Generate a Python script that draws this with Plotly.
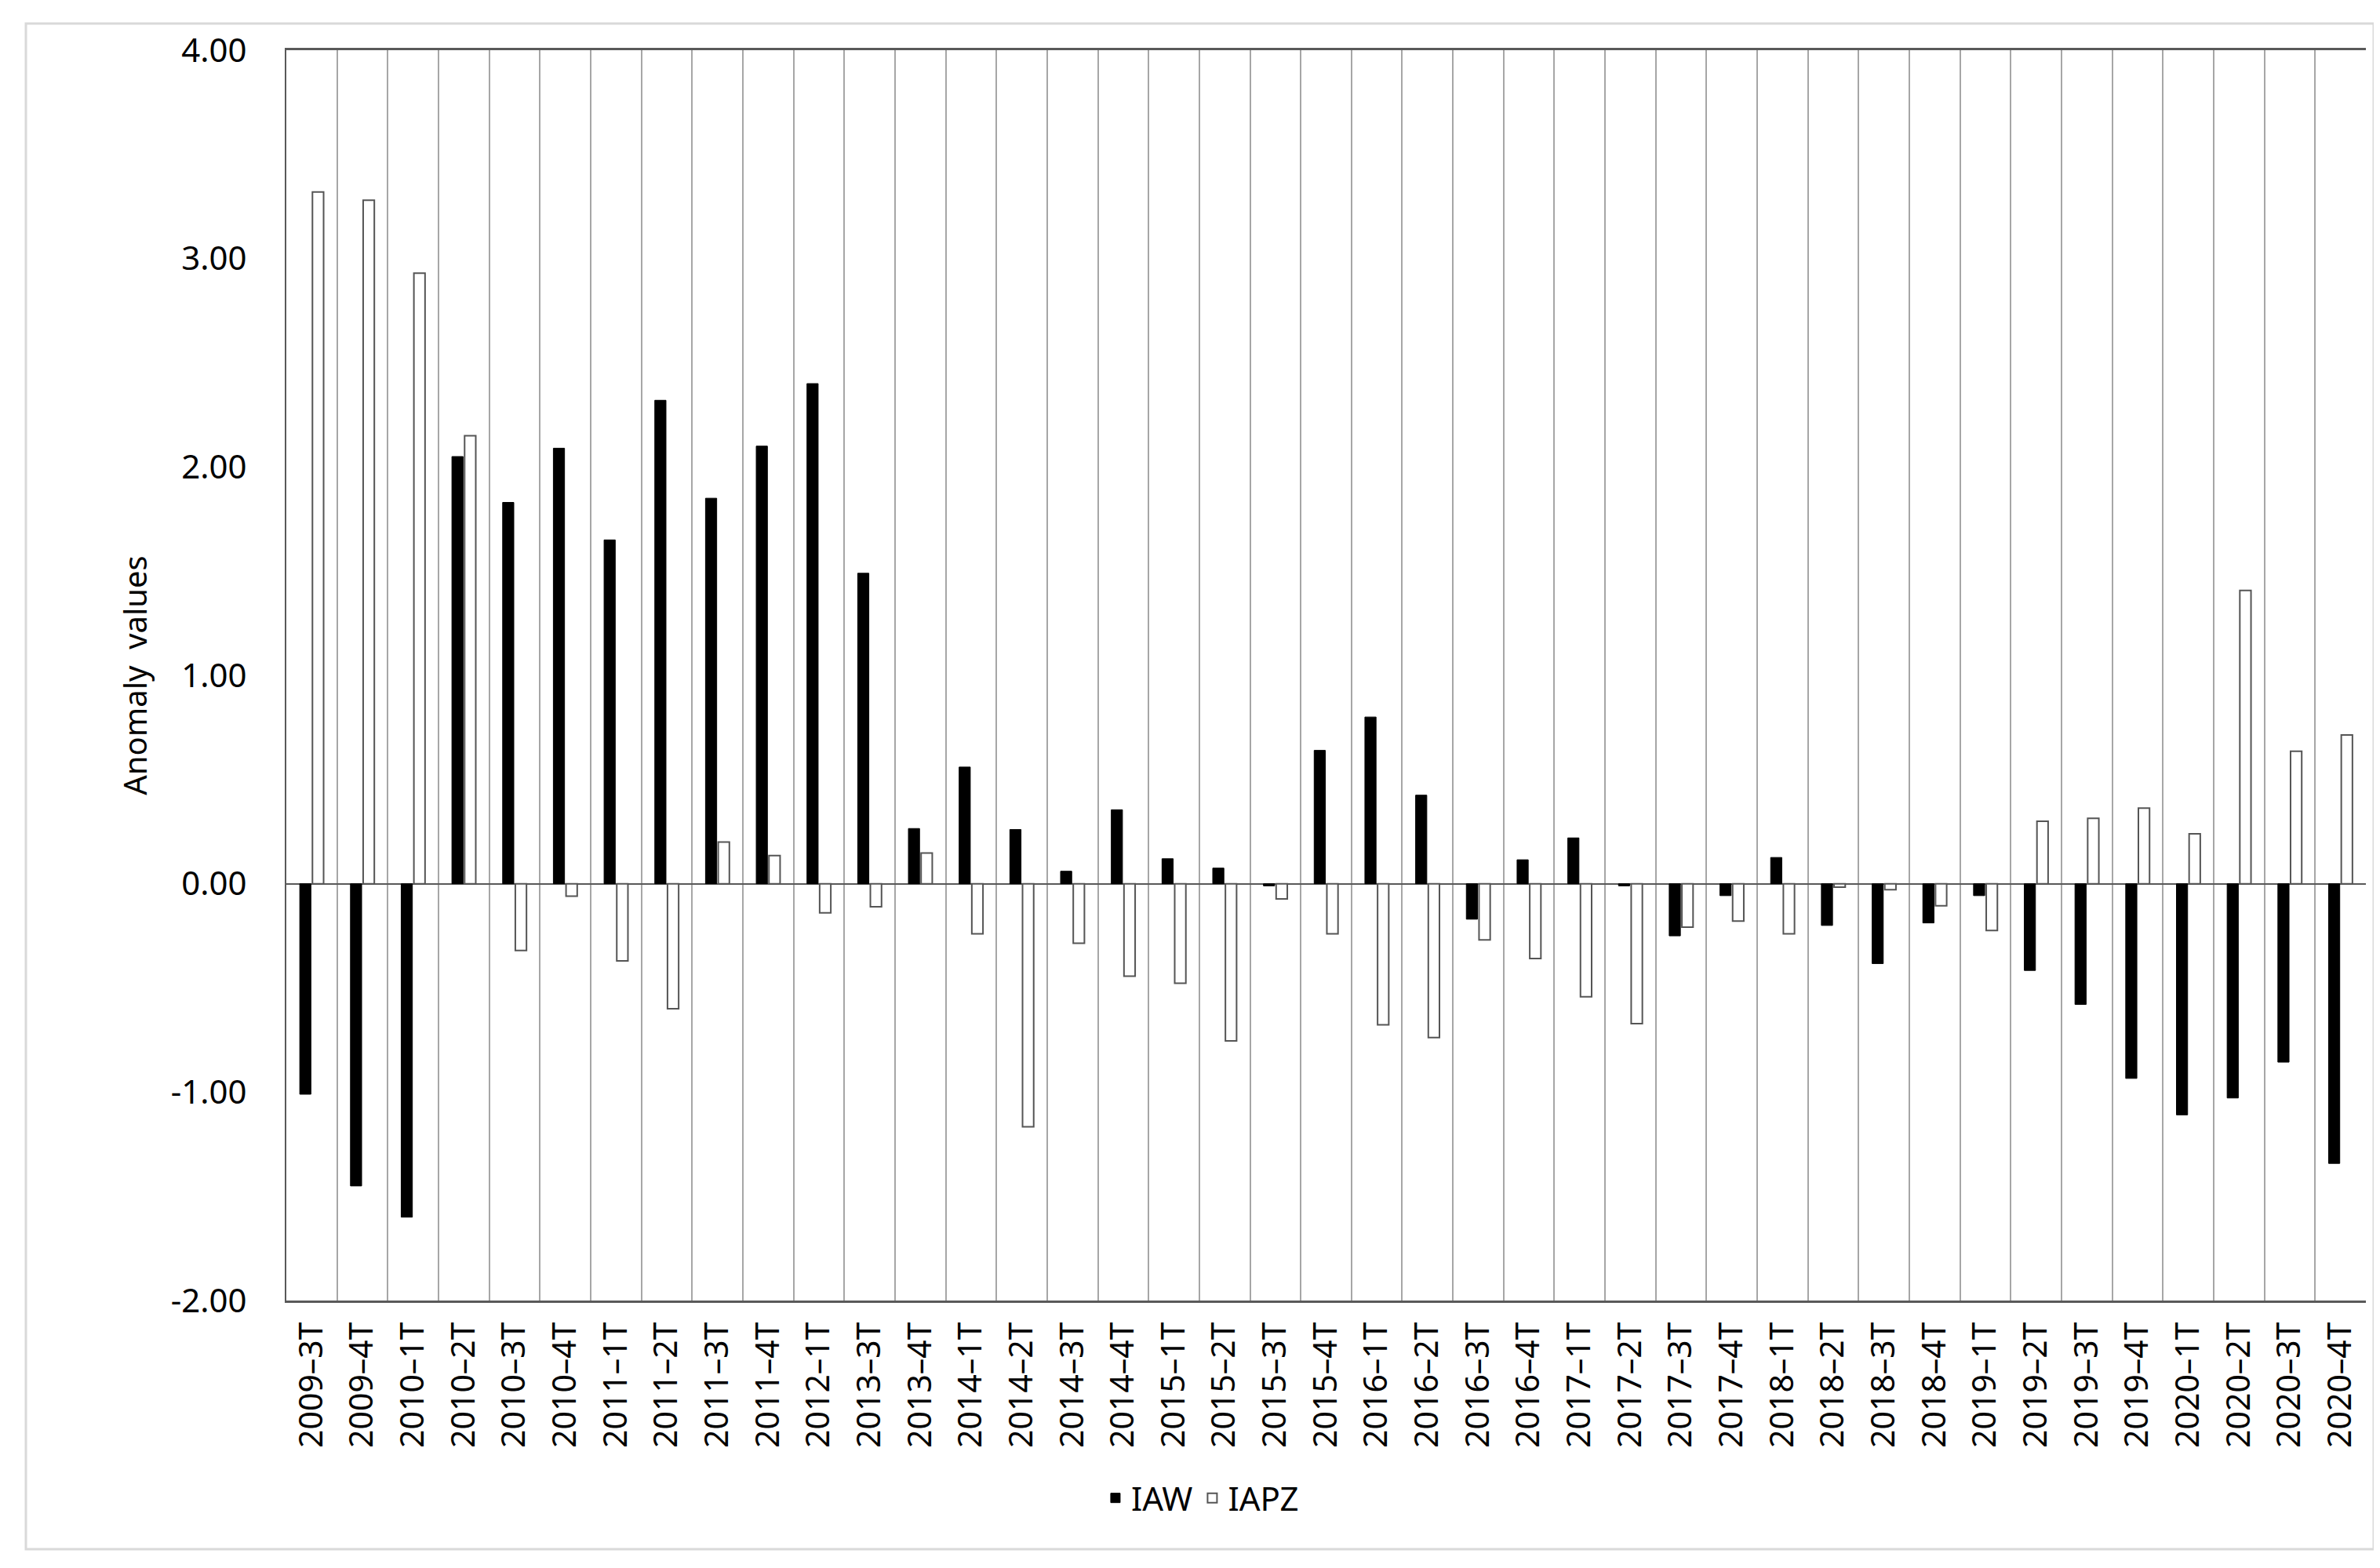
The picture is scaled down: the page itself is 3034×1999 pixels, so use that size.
import plotly.graph_objects as go

# quarters on the x axis
quarters = [
    "2009–3T", "2009–4T", "2010–1T", "2010–2T", "2010–3T", "2010–4T",
    "2011–1T", "2011–2T", "2011–3T", "2011–4T", "2012–1T", "2013–3T",
    "2013–4T", "2014–1T", "2014–2T", "2014–3T", "2014–4T", "2015–1T",
    "2015–2T", "2015–3T", "2015–4T", "2016–1T", "2016–2T", "2016–3T",
    "2016–4T", "2017–1T", "2017–2T", "2017–3T", "2017–4T", "2018–1T",
    "2018–2T", "2018–3T", "2018–4T", "2019–1T", "2019–2T", "2019–3T",
    "2019–4T", "2020–1T", "2020–2T", "2020–3T", "2020–4T",
]

iaw = [
    -1.01, -1.45, -1.60, 2.05, 1.83, 2.09,
    1.65, 2.32, 1.85, 2.10, 2.40, 1.49,
    0.265, 0.56, 0.26, 0.06, 0.355, 0.12,
    0.075, -0.01, 0.64, 0.80, 0.425, -0.17,
    0.115, 0.22, -0.01, -0.25, -0.057, 0.126,
    -0.20, -0.383, -0.188, -0.057, -0.416, -0.579,
    -0.934, -1.109, -1.028, -0.856, -1.342,
]

iapz = [
    3.32, 3.28, 2.93, 2.15, -0.32, -0.06,
    -0.37, -0.60, 0.20, 0.135, -0.14, -0.11,
    0.147, -0.24, -1.166, -0.285, -0.444, -0.477,
    -0.754, -0.073, -0.24, -0.677, -0.738, -0.269,
    -0.359, -0.542, -0.671, -0.208, -0.179, -0.24,
    -0.016, -0.029, -0.106, -0.224, 0.30, 0.314,
    0.363, 0.24, 1.407, 0.636, 0.714,
]

ytick_vals = [-2, -1, 0, 1, 2, 3, 4]
ytick_text = ["-2.00", "-1.00", "0.00", "1.00", "2.00", "3.00", "4.00"]

W, H = 3034, 1999
L, R, T, B = 357, 3008, 56, 1650
FONT = "Noto Sans"

fig = go.Figure()
fig.add_trace(go.Bar(x=quarters, y=iaw, name="IAW",
                     marker=dict(color="black", line=dict(color="black", width=1))))
fig.add_trace(go.Bar(x=quarters, y=iapz, name="IAPZ",
                     marker=dict(color="white", line=dict(color="#555555", width=2))))

pw, ph = R - L, B - T
# outer chart border
fig.add_shape(type="rect", xref="paper", yref="paper",
              x0=(25 - L) / pw, x1=(3018 - L) / pw,
              y0=(B - 1967) / ph, y1=(B - 22) / ph,
              line=dict(color="#d9d9d9", width=3), fillcolor="rgba(0,0,0,0)", layer="below")

fig.update_layout(
    width=W, height=H,
    margin=dict(l=L, r=W - R, t=T, b=H - B),
    paper_bgcolor="white", plot_bgcolor="white",
    barmode="group", bargap=0.5, bargroupgap=0.12,
    font=dict(family=FONT, size=40, color="black"),
    legend=dict(orientation="h", x=0.44, xanchor="center", y=-0.158, yanchor="middle",
                font=dict(size=42), itemwidth=30, traceorder="normal"),
)
fig.update_xaxes(
    type="category", tickson="boundaries", showgrid=True, gridcolor="#a6a6a6", gridwidth=2,
    tickangle=-90, ticks="", ticklabelstandoff=8,
    showline=True, linecolor="#595959", linewidth=3, mirror=True,
    tickfont=dict(size=41, family=FONT),
)
fig.update_yaxes(
    range=[-2, 4], tickvals=ytick_vals, ticktext=ytick_text, showgrid=False,
    zeroline=True, zerolinecolor="#595959", zerolinewidth=2,
    showline=True, linecolor="#595959", linewidth=2,
    ticks="", ticklabelstandoff=40,
    tickfont=dict(size=42, family=FONT),
    title=dict(text="Anomaly  values", font=dict(size=40, family=FONT), standoff=18),
)

fig.write_html("out.html")
